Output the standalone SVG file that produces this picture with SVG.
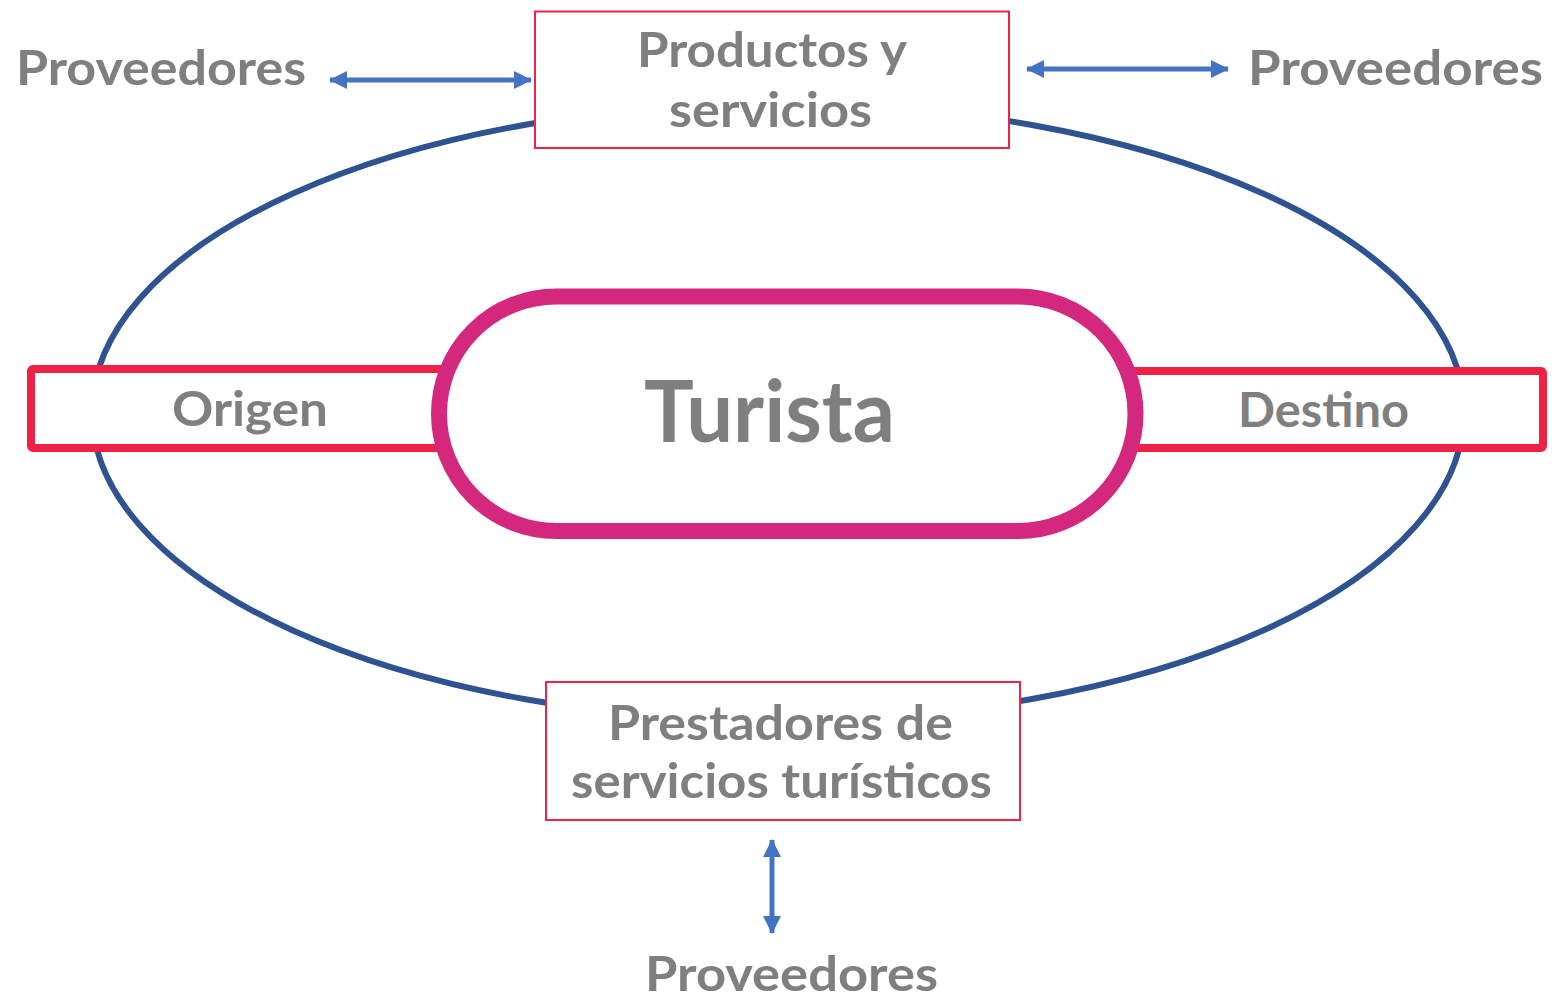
<svg xmlns="http://www.w3.org/2000/svg" width="1552" height="996" viewBox="0 0 1552 996">
<style>
.lbl{font-family:Lato,"Liberation Sans",sans-serif;font-weight:bold;fill:#7F7F7F}
.box{fill:#fff;stroke:#EE2244;stroke-width:2}
.band{fill:#fff;stroke:#EE2244;stroke-width:8}
.arr{stroke:#4472C4;stroke-width:5;fill:none;marker-start:url(#ah);marker-end:url(#ah)}
</style>
<defs>
<marker id="ah" markerUnits="userSpaceOnUse" markerWidth="18" markerHeight="18" refX="17" refY="9" orient="auto-start-reverse" viewBox="0 0 18 18">
<path d="M0,0 L18,9 L0,18 Z" fill="#4472C4"/>
</marker>
</defs>
<rect width="1552" height="996" fill="#fff"/>
<g id="ciclo">
<ellipse cx="778" cy="412" rx="686" ry="309" fill="none" stroke="#2F5290" stroke-width="6"/>
</g>
<g id="origen">
<rect class="band" x="31" y="369" width="430" height="79" rx="2"/>
<text class="lbl" x="172" y="426" font-size="48" textLength="156" lengthAdjust="spacingAndGlyphs">Origen</text>
</g>
<g id="destino">
<rect class="band" x="1100" y="371" width="443" height="77" rx="2"/>
<text class="lbl" x="1238" y="427" font-size="47" textLength="171" lengthAdjust="spacingAndGlyphs">Destino</text>
</g>
<g id="turista">
<rect x="439" y="296.5" width="696.5" height="234.5" rx="117.25" fill="#fff" stroke="#D4287F" stroke-width="16"/>
<text class="lbl" x="644" y="441.5" font-size="86" textLength="251" lengthAdjust="spacingAndGlyphs">Turista</text>
</g>
<g id="productos">
<rect class="box" x="535" y="11.5" width="474" height="136.5"/>
<text class="lbl" x="637" y="67" font-size="48" textLength="270" lengthAdjust="spacingAndGlyphs">Productos y</text>
<text class="lbl" x="669" y="127" font-size="48" textLength="203" lengthAdjust="spacingAndGlyphs">servicios</text>
</g>
<g id="prestadores">
<rect class="box" x="546" y="682" width="474" height="138"/>
<text class="lbl" x="608" y="740" font-size="48" textLength="345" lengthAdjust="spacingAndGlyphs">Prestadores de</text>
<text class="lbl" x="571" y="798" font-size="48" textLength="421" lengthAdjust="spacingAndGlyphs">servicios turísticos</text>
</g>
<g id="prov-izq">
<text class="lbl" x="16" y="85" font-size="47" textLength="290" lengthAdjust="spacingAndGlyphs">Proveedores</text>
</g>
<g id="prov-der">
<text class="lbl" x="1248" y="85" font-size="47" textLength="295" lengthAdjust="spacingAndGlyphs">Proveedores</text>
</g>
<g id="prov-abajo">
<text class="lbl" x="645" y="991" font-size="47" textLength="293" lengthAdjust="spacingAndGlyphs">Proveedores</text>
</g>
<g id="connectors">
<line class="arr" x1="330" y1="80" x2="531" y2="80"/>
<line class="arr" x1="1027" y1="69" x2="1228" y2="69"/>
<line class="arr" x1="772" y1="840" x2="772" y2="933"/>
</g>
</svg>
